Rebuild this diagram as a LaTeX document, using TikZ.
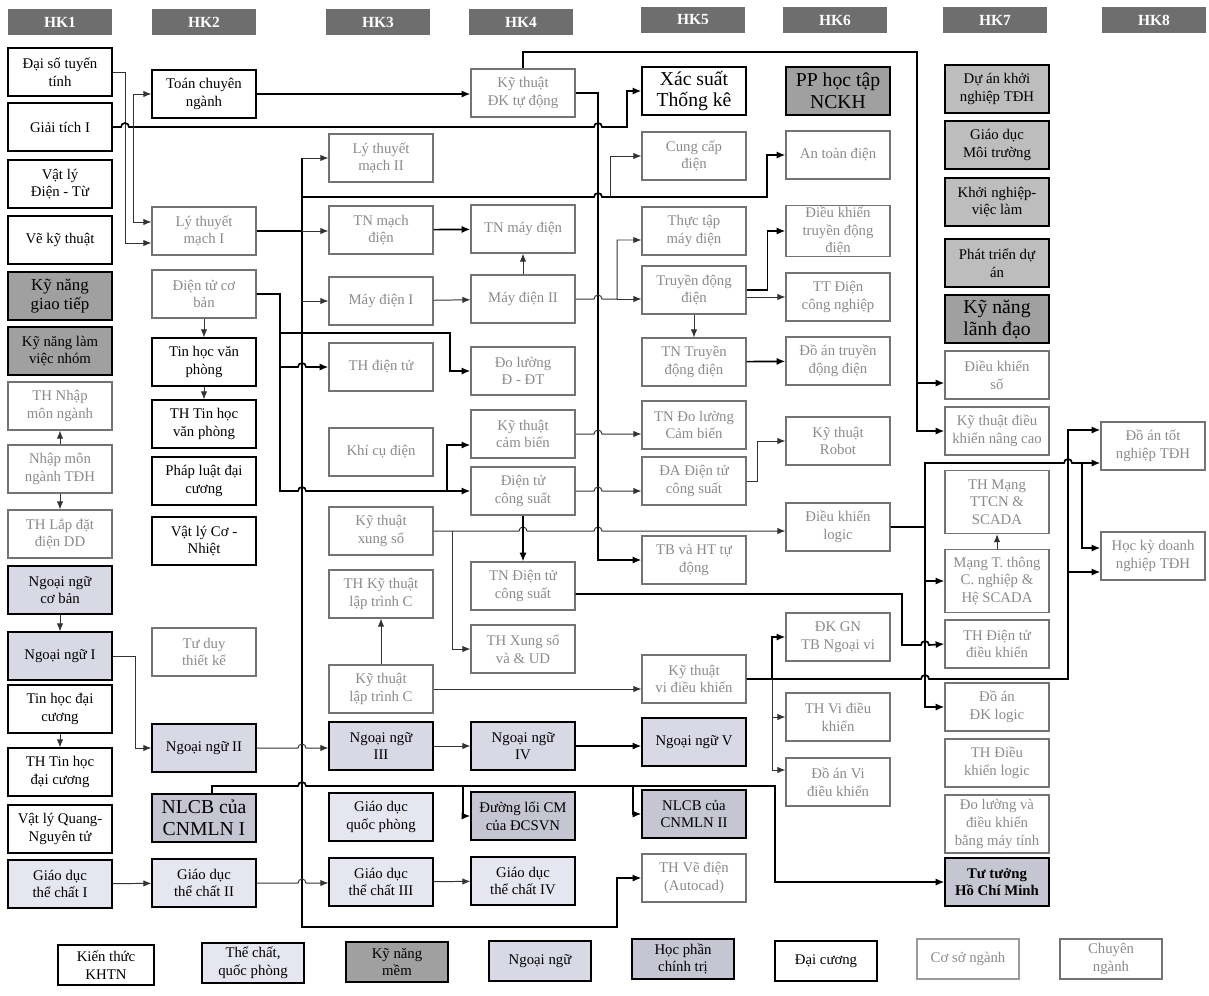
\documentclass[tikz,border=0pt]{standalone}
\usepackage{fontspec}
\setmainfont{Liberation Serif}
\usetikzlibrary{arrows.meta, calc}

\definecolor{hdgray}{HTML}{6E6E6E}
\definecolor{kngray}{HTML}{A0A0A0}
\definecolor{knlight}{HTML}{BDBDBD}
\definecolor{tclav}{HTML}{E6E6F0}
\definecolor{nnlav}{HTML}{D9D9E6}
\definecolor{ctlav}{HTML}{C6C6D3}
\definecolor{csgray}{HTML}{8A8A8A}

\begin{document}
\begin{tikzpicture}[x=0.025cm, y=-0.025cm,
    % Define styles
    box/.style={rectangle, draw=black, line width=0.8pt, minimum width=2.6cm, minimum height=1.2cm, align=center, inner sep=1pt, font=\fontsize{10.5}{12.5}\selectfont},
    kh/.style={box},
    csn/.style={box, draw=black!55, text=csgray},
    kn/.style={box, fill=kngray},
    knb/.style={box, fill=knlight},
    tc/.style={box, fill=tclav},
    nn/.style={box, fill=nnlav},
    ct/.style={box, fill=ctlav},
    big/.style={font=\fontsize{14}{15.5}\selectfont},
    hk/.style={rectangle, fill=hdgray, text=white, minimum width=2.6cm, minimum height=0.65cm, font=\fontsize{11}{12}\selectfont\bfseries},
    legend/.style={minimum width=2.55cm, minimum height=1.0cm},
    arr/.style={-{Latex[length=2mm, width=1.6mm]}, draw=black!80, line width=0.7pt},
    tarr/.style={-{Latex[length=2.2mm, width=1.8mm]}, draw=black, line width=1.2pt},
    ]
    \useasboundingbox (0,0) rectangle (1209,995);

    % Semester headers
    \node[hk] (hk1) at (60,22) {HK1};
    \node[hk] (hk2) at (204,22) {HK2};
    \node[hk] (hk3) at (378,22) {HK3};
    \node[hk] (hk4) at (521,22) {HK4};
    \node[hk] (hk5) at (693,20) {HK5};
    \node[hk] (hk6) at (835,20) {HK6};
    \node[hk] (hk7) at (995,20) {HK7};
    \node[hk] (hk8) at (1154,20) {HK8};

    % HK1
    \node[kh] (daiso) at (60,72) {Đại số tuyến\\tính};
    \node[kh] (giaitich) at (60,127) {Giải tích I};
    \node[kh] (vlydt) at (60,184) {Vật lý\\Điện - Từ};
    \node[kh] (vekt) at (60,240) {Vẽ kỹ thuật};
    \node[kn, font=\fontsize{12}{13.5}\selectfont] (kngt) at (60,296) {Kỹ năng\\giao tiếp};
    \node[kn] (knlvn) at (60,351) {Kỹ năng làm\\việc nhóm};
    \node[csn] (thnm) at (60,406) {TH Nhập\\môn ngành};
    \node[csn] (nmn) at (60,469) {Nhập môn\\ngành TĐH};
    \node[csn] (thld) at (60,534) {TH Lắp đặt\\điện DD};
    \node[nn] (nncb) at (60,590) {Ngoại ngữ\\cơ bản};
    \node[nn] (nn1) at (60,656) {Ngoại ngữ I};
    \node[kh] (thdc) at (60,709) {Tin học đại\\cương};
    \node[kh] (ththdc) at (60,772) {TH Tin học\\đại cương};
    \node[kh] (vlyq) at (60,829) {Vật lý Quang-\\Nguyên tử};
    \node[tc] (gdtc1) at (60,884) {Giáo dục\\thể chất I};

    % HK2
    \node[kh] (toancn) at (204,94) {Toán chuyên\\ngành};
    \node[csn] (ltm1) at (204,231) {Lý thuyết\\mạch I};
    \node[csn] (dtcb) at (204,294) {Điện tử cơ\\bản};
    \node[kh] (thvp) at (204,362) {Tin học văn\\phòng};
    \node[kh] (ththvp) at (204,424) {TH Tin học\\văn phòng};
    \node[kh] (pldc) at (204,481) {Pháp luật đại\\cương};
    \node[kh] (vlcn) at (204,541) {Vật lý Cơ -\\Nhiệt};
    \node[csn] (tdtk) at (204,652) {Tư duy\\thiết kế};
    \node[nn] (nn2) at (204,748) {Ngoại ngữ II};
    \node[ct, big] (nlcb1) at (204,818) {NLCB của\\CNMLN I};
    \node[tc] (gdtc2) at (204,883) {Giáo dục\\thể chất II};

    % HK3
    \node[csn] (ltm2) at (381,158) {Lý thuyết\\mạch II};
    \node[csn] (tnmd) at (381,230) {TN mạch\\điện};
    \node[csn] (md1) at (381,301) {Máy điện I};
    \node[csn] (thdt) at (381,367) {TH điện tử};
    \node[csn] (kcd) at (381,452) {Khí cụ điện};
    \node[csn] (ktxs) at (381,531) {Kỹ thuật\\xung số};
    \node[csn] (thktlt) at (381,594) {TH Kỹ thuật\\lập trình C};
    \node[csn] (ktlt) at (381,689) {Kỹ thuật\\lập trình C};
    \node[nn] (nn3) at (381,746) {Ngoại ngữ\\III};
    \node[tc] (gdqp) at (381,817) {Giáo dục\\quốc phòng};
    \node[tc] (gdtc3) at (381,882) {Giáo dục\\thể chất III};

    % HK4
    \node[csn] (ktdktd) at (523,93) {Kỹ thuật\\ĐK tự động};
    \node[csn] (tnmdien) at (523,229) {TN máy điện};
    \node[csn] (md2) at (523,299) {Máy điện II};
    \node[csn] (dldt) at (523,371) {Đo lường\\Đ - ĐT};
    \node[csn] (ktcb) at (523,434) {Kỹ thuật\\cảm biến};
    \node[csn] (dtcs) at (523,491) {Điện tử\\công suất};
    \node[csn] (tndtcs) at (523,586) {TN Điện tử\\công suất};
    \node[csn] (thxs) at (523,649) {TH Xung số\\và \& UD};
    \node[nn] (nn4) at (523,746) {Ngoại ngữ\\IV};
    \node[ct] (dlcm) at (523,816) {Đường lối CM\\của ĐCSVN};
    \node[tc] (gdtc4) at (523,881) {Giáo dục\\thể chất IV};

    % HK5
    \node[kh, big] (xstk) at (694,91) {Xác suất\\Thống kê};
    \node[csn] (ccd) at (694,156) {Cung cấp\\điện};
    \node[csn] (ttmd) at (694,231) {Thực tập\\máy điện};
    \node[csn] (tdd) at (694,290) {Truyền động\\điện};
    \node[csn] (tntdd) at (694,362) {TN Truyền\\động điện};
    \node[csn] (tndlcb) at (694,425) {TN Đo lường\\Cảm biến};
    \node[csn] (dadtcs) at (694,481) {ĐA Điện tử\\công suất};
    \node[csn] (tbht) at (694,560) {TB và HT tự\\động};
    \node[csn] (ktvdk) at (694,679) {Kỹ thuật\\vi điều khiển};
    \node[nn] (nn5) at (694,742) {Ngoại ngữ V};
    \node[ct] (nlcb2) at (694,814) {NLCB của\\CNMLN II};
    \node[csn] (thvd) at (694,878) {TH Vẽ điện\\(Autocad)};

    % HK6
    \node[kn, big] (ppht) at (838,91) {PP học tập\\NCKH};
    \node[csn] (atd) at (838,155) {An toàn điện};
    \node[csn] (dktdd) at (838,231) {Điều khiển\\truyền động\\điện};
    \node[csn] (ttdcn) at (838,297) {TT Điện\\công nghiệp};
    \node[csn] (datdd) at (838,361) {Đồ án truyền\\động điện};
    \node[csn] (ktrb) at (838,441) {Kỹ thuật\\Robot};
    \node[csn] (dkl) at (838,527) {Điều khiển\\logic};
    \node[csn] (dkgn) at (838,637) {ĐK GN\\TB Ngoại vi};
    \node[csn] (thvdk) at (838,717) {TH Vi điều\\khiển};
    \node[csn] (davdk) at (838,782) {Đồ án Vi\\điều khiển};

    % HK7
    \node[knb] (dakn) at (997,89) {Dự án khởi\\nghiệp TĐH};
    \node[knb] (gdmt) at (997,145) {Giáo dục\\Môi trường};
    \node[knb] (knvl) at (997,202) {Khởi nghiệp-\\việc làm};
    \node[knb] (ptda) at (997,263) {Phát triển dự\\án};
    \node[kn, big] (knld) at (997,319) {Kỹ năng\\lãnh đạo};
    \node[csn] (dks) at (997,375) {Điều khiển\\số};
    \node[csn] (ktdknc) at (997,431) {Kỹ thuật điều\\khiển nâng cao};
    \node[csn, minimum height=1.58cm] (thm) at (997,502) {TH Mạng\\TTCN \&\\SCADA};
    \node[csn, minimum height=1.58cm] (mtt) at (997,581) {Mạng T. thông\\C. nghiệp \&\\Hệ SCADA};
    \node[csn] (thdtdk) at (997,644) {TH Điện tử\\điều khiển};
    \node[csn] (dadkl) at (997,707) {Đồ án\\ĐK logic};
    \node[csn] (thdkl) at (997,763) {TH Điều\\khiển logic};
    \node[csn, minimum height=1.45cm] (dlmt) at (997,824) {Đo lường và\\điều khiển\\bằng máy tính};
    \node[ct, font=\fontsize{10.5}{12.5}\selectfont\bfseries] (tthcm) at (997,882) {Tư tưởng\\Hồ Chí Minh};

    % HK8
    \node[csn] (datn) at (1153,446) {Đồ án tốt\\nghiệp TĐH};
    \node[csn] (hkdn) at (1153,556) {Học kỳ doanh\\nghiệp TĐH};

    % Legend
    \node[kh, legend, minimum width=2.4cm] (legkh) at (106,965) {Kiến thức\\KHTN};
    \node[tc, legend] (legtc) at (253,963) {Thể chất,\\quốc phòng};
    \node[kn, legend] (legkn) at (397,962) {Kỹ năng\\mềm};
    \node[nn, legend] (legnn) at (540,961) {Ngoại ngữ};
    \node[ct, legend] (legct) at (683,959) {Học phần\\chính trị};
    \node[kh, legend] (legdc) at (826,961) {Đại cương};
    \node[csn, legend, draw=black!40] (legcs) at (968,959) {Cơ sở ngành};
    \node[csn, legend] (legcn) at (1111,959) {Chuyên\\ngành};

    % Junctions
    \coordinate (gtj) at (133,127);
    \coordinate (ltj) at (302,231);
    \coordinate (atj) at (302,197);
    \coordinate (ccj) at (610,197);
    \coordinate (dlj) at (280,333);
    \coordinate (thj) at (280,367);
    \coordinate (cbj) at (447,491);
    \coordinate (xsj) at (452,531);
    \coordinate (dlcmj) at (463,786);
    \coordinate (nlj) at (633,786);
    \coordinate (dksj) at (917,383);
    \coordinate (tdj) at (617,299);
    \coordinate (vkj) at (772,679);
    \coordinate (hkj) at (1068,572);
    \coordinate (lgj) at (925,527);
    \coordinate (dnj) at (1082,463);

    % Arrows from HK1
    \draw[arr] (daiso.east) -- ++(13,0) |- ($(ltm1.west)+(0,12)$);
    \draw[tarr] (giaitich.east) -- (121,127) arc[start angle=180, end angle=360, radius=4] -- (594,127) arc[start angle=180, end angle=360, radius=4] -- (627,127) |- (xstk.west);
    \draw[arr] (gtj) |- (toancn.west);
    \draw[arr] (gtj) |- ($(ltm1.west)+(0,-9)$);
    \draw[arr] (nmn) -- (thnm);
    \draw[arr] (nmn) -- (thld);
    \draw[arr] (nncb) -- (nn1);
    \draw[arr] (thdc) -- (ththdc);
    \draw[arr] (nn1.east) -- ++(23,0) |- (nn2.west);
    \draw[arr] (gdtc1) -- (gdtc2);

    % Arrows from HK2
    \draw[tarr] (toancn.east) -- (toancn.east -| ktdktd.west);
    \draw[arr] (dtcb) -- (thvp);
    \draw[arr] (thvp) -- (ththvp);
    \draw[tarr] (ltm1.east) -- (ltj) -- (302,927) -- (617,927) |- (thvd.west);
    \draw[line width=1.2pt] (ltj) -- (ltj |- ltm2.west);
    \draw[arr] (ltj |- ltm2.west) -- (ltm2.west);
    \draw[arr] (ltj) -- (ltj -| tnmd.west);
    \draw[arr] (md1.west -| ltj) -- (md1.west);
    \draw[tarr] (atj) -- (594,197) arc[start angle=180, end angle=360, radius=4] -- (767,197) |- (atd.west);
    \draw[arr] (ccj) |- (ccd.west);
    \draw[tarr] (dtcb.east) -- (280,294) -- (280,491) -- (298,491) arc[start angle=180, end angle=360, radius=4] -- (dtcs.west);
    \draw[tarr] (cbj) |- ($(ktcb.west)+(0,11)$);
    \draw[tarr] (dlj) -- (450,333) |- (dldt.west);
    \draw[tarr] (thj) -- (298,367) arc[start angle=180, end angle=360, radius=4] -- (thdt.west);
    \draw[arr] (nn2.east) -- (298,748) arc[start angle=180, end angle=360, radius=4] -- (nn2.east -| nn3.west);
    \draw[arr] (gdtc2.east) -- (298,883) arc[start angle=180, end angle=360, radius=4] -- (gdtc2.east -| gdtc3.west);
    \draw[tarr] ($(nlcb1.north)+(8,0)$) |- (298,786) arc[start angle=180, end angle=360, radius=4] -- (775,786) |- (tthcm.west);
    \draw[tarr] (dlcmj) |- (dlcm.west);
    \draw[tarr] (nlj) |- (nlcb2.west);

    % Arrows from HK3
    \draw[tarr] (tnmd) -- (tnmdien);
    \draw[arr] (md1) -- (md2);
    \draw[arr] (ktlt) -- (thktlt);
    \draw[arr] (ktlt.east) -- (ktlt.east -| ktvdk.west);
    \draw[arr] (ktxs.east) -- (519,531) arc[start angle=180, end angle=360, radius=4] -- (594,531) arc[start angle=180, end angle=360, radius=4] -- (ktxs.east -| dkl.west);
    \draw[arr] (xsj) |- (thxs.west);
    \draw[arr] (nn3) -- (nn4);
    \draw[arr] (gdtc3) -- (gdtc4);

    % Arrows from HK4
    \draw[arr] (md2) -- (tnmdien);
    \draw[tarr] (ktdktd.east) -- (598,93) |- (tbht.west);
    \draw[tarr] (ktdktd.north) |- (917,52) |- (ktdknc.west);
    \draw[tarr] (dksj) -- (dksj -| dks.west);
    \draw[arr] (md2.east) -- (594,299) arc[start angle=180, end angle=360, radius=4] -- (tdj) |- ($(ttmd.west)+(0,9)$);
    \draw[arr] (tdj) -- (tdj -| tdd.west);
    \draw[arr] (ktcb.east) -- (594,434) arc[start angle=180, end angle=360, radius=4] -- (ktcb.east -| tndlcb.west);
    \draw[arr] (dtcs.east) -- (594,491) arc[start angle=180, end angle=360, radius=4] -- (dtcs.east -| dadtcs.west);
    \draw[tarr] (dtcs) -- (tndtcs);
    \draw[tarr] ($(tndtcs.east)+(0,8)$) -- (902,594) -- (902,645) -- (921,645) arc[start angle=180, end angle=360, radius=4] -- (thdtdk.west);
    \draw[tarr] (nn4.east) -- (nn4.east -| nn5.west);

    % Arrows from HK5
    \draw[arr] (tdd) -- (tntdd);
    \draw[tarr] (tdd.east) -- ++(21,0) |- (dktdd.west);
    \draw[arr] (tdd.east |- ttdcn.west) -- (ttdcn.west);
    \draw[tarr] (tntdd) -- (datdd);
    \draw[arr] (dadtcs.east) -- ++(11,0) |- (ktrb.west);
    \draw[tarr] (ktvdk.east) -- (vkj) -- (921,679) arc[start angle=180, end angle=360, radius=4] -- (1068,679) |- ($(datn.west)+(0,-16)$);
    \draw[tarr] (vkj) |- (dkgn.west);
    \draw[arr] (vkj) |- (thvdk.west);
    \draw[arr] (vkj) |- ($(davdk.west)+(0,-12)$);
    \draw[tarr] (hkj) -- (hkj -| hkdn.west);

    % Arrows from HK6
    \draw[tarr] (dkl.east) -- (lgj) -- (925,463) -- (1064,463) arc[start angle=180, end angle=360, radius=4] -- (dnj) -- (dnj -| datn.west);
    \draw[tarr] (dnj) |- ($(hkdn.west)+(0,-8)$);
    \draw[tarr] (lgj) |- (mtt.west);
    \draw[tarr] (lgj) |- (dadkl.west);
    \draw[arr] (mtt) -- (thm);

\end{tikzpicture}
\end{document}
